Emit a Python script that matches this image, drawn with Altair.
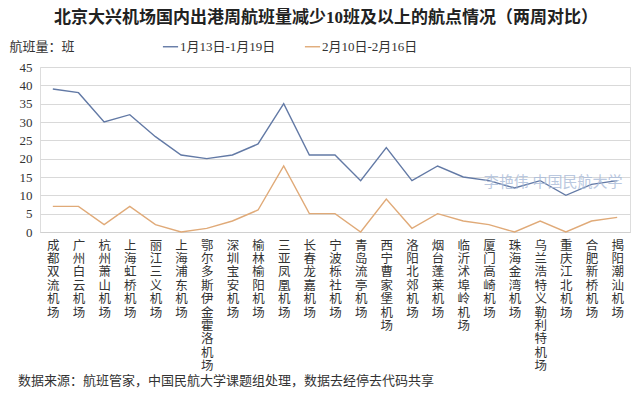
import altair as alt
import pandas as pd

airports = ["成都双流机场", "广州白云机场", "杭州萧山机场", "上海虹桥机场", "丽江三义机场",
            "上海浦东机场", "鄂尔多斯伊金霍洛机场", "深圳宝安机场", "榆林榆阳机场", "三亚凤凰机场",
            "长春龙嘉机场", "宁波栎社机场", "青岛流亭机场", "西宁曹家堡机场", "洛阳北郊机场",
            "烟台蓬莱机场", "临沂沭埠岭机场", "厦门高崎机场", "珠海金湾机场", "乌兰浩特义勒利特机场",
            "重庆江北机场", "合肥新桥机场", "揭阳潮汕机场"]
week1 = [39, 38, 30, 32, 26, 21, 20, 21, 24, 35, 21, 21, 14, 23, 14, 18, 15, 14, 12, 14, 10, 13, 14]
week2 = [7, 7, 2, 7, 2, 0, 1, 3, 6, 18, 5, 5, 0, 9, 1, 5, 3, 2, 0, 3, 0, 3, 4]
series_names = ["1月13日-1月19日", "2月10日-2月16日"]
y_ticks = [0, 5, 10, 15, 20, 25, 30, 35, 40, 45]

rows = []
for i, a in enumerate(airports):
    rows.append({"airport": a, "series": series_names[0], "value": week1[i], "order": i})
    rows.append({"airport": a, "series": series_names[1], "value": week2[i], "order": i})
df = pd.DataFrame(rows)

serif = "Liberation Serif, Noto Sans CJK SC"

lines = alt.Chart(df).mark_line(strokeWidth=1.4).encode(
    x=alt.X("airport:N", sort=airports, scale=alt.Scale(padding=0.5),
            axis=alt.Axis(title=None, labelAngle=0, ticks=False, labelPadding=7,
                          labelExpr="split(datum.label, '')", labelBaseline="top",
                          labelAlign="center", labelLineHeight=13.4, labelFontSize=12.5,
                          labelFont=serif, labelColor="#333333", domainColor="#d0d0d0",
                          grid=False, labelOverlap=False)),
    y=alt.Y("value:Q", scale=alt.Scale(domain=[0, 45], nice=False),
            axis=alt.Axis(values=y_ticks, title="航班量：班", titleAngle=0, titleAlign="left",
                          titleBaseline="middle", titleX=-31, titleY=-21, titleFont=serif,
                          titleFontSize=13, titleFontWeight="normal", titleColor="#333333",
                          labelFont=serif, labelFontSize=13, labelColor="#333333",
                          labelPadding=8, ticks=False, domain=False,
                          gridColor="#d9d9d9", gridWidth=1)),
    color=alt.Color("series:N", sort=series_names,
                    scale=alt.Scale(domain=series_names, range=["#6279a5", "#e0aa78"]),
                    legend=alt.Legend(title=None, orient="none", legendX=122, legendY=-29,
                                      direction="horizontal", symbolType="stroke",
                                      symbolSize=230, symbolStrokeWidth=1.4,
                                      labelFont=serif, labelFontSize=13, labelColor="#333333",
                                      labelOffset=1, columnPadding=26)),
    order="order:Q",
)

single = alt.Data(values=[{}])

title = alt.Chart(single).mark_text(fontSize=17, fontWeight="bold", font=serif,
                                    color="#222222", align="center", baseline="middle").encode(
    text=alt.value("北京大兴机场国内出港周航班量减少10班及以上的航点情况（两周对比）"),
    x=alt.value(286), y=alt.value(-49))

foot = alt.Chart(single).mark_text(fontSize=13, font=serif, color="#333333",
                                   align="left", baseline="middle").encode(
    text=alt.value("数据来源：航班管家，中国民航大学课题组处理，数据去经停去代码共享"),
    x=alt.value(-22), y=alt.value(314))

watermark = alt.Chart(single).mark_text(fontSize=15, font=serif, color="#a9bbd8", opacity=0.8,
                                        align="center", baseline="middle").encode(
    text=alt.value("李艳伟 中国民航大学"),
    x=alt.value(513), y=alt.value(115))

chart = alt.layer(lines, watermark, title, foot).properties(
    width=590, height=165,
    autosize=alt.AutoSizeParams(type="none"),
    padding={"left": 32, "top": 59, "right": 2, "bottom": 157},
).configure_view(stroke=None).configure(background="white")

chart.save("out.html", embed_options={"renderer": "svg", "actions": False})
